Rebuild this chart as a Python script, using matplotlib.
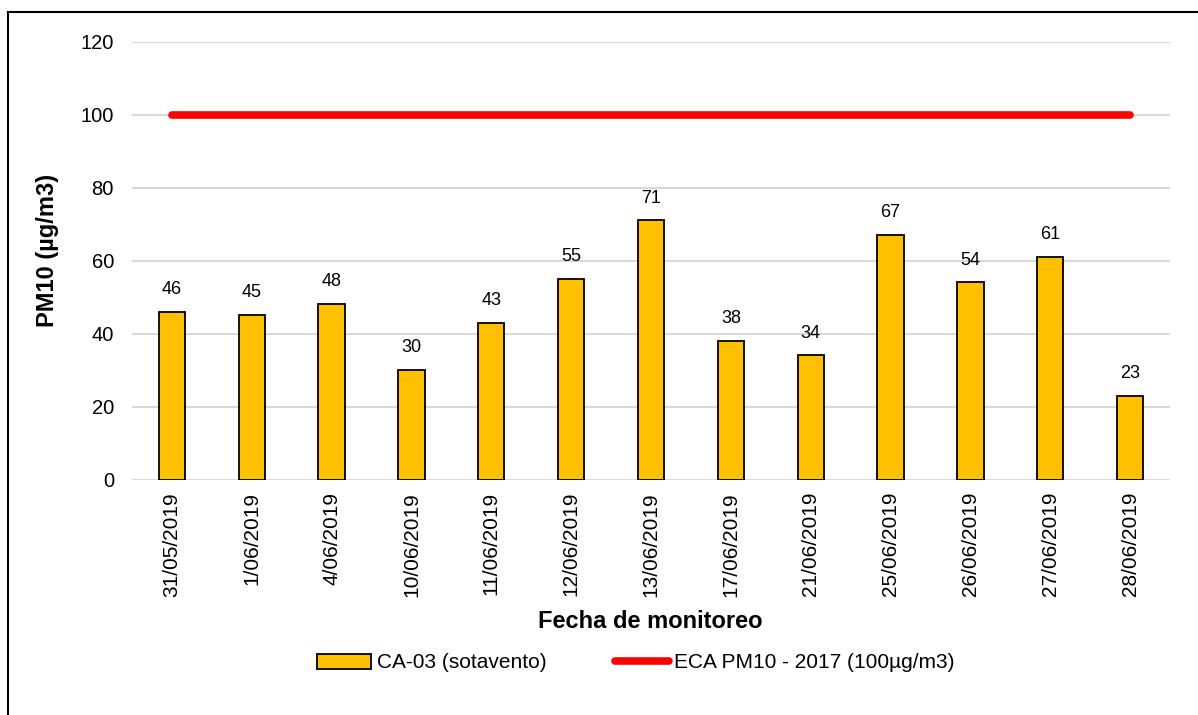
import matplotlib
matplotlib.use("Agg")
import matplotlib.pyplot as plt
from matplotlib.patches import Rectangle, Patch
from matplotlib.lines import Line2D
import numpy as np

plt.rcParams['font.family'] = ['Liberation Sans', 'DejaVu Sans']

dates = ["31/05/2019", "1/06/2019", "4/06/2019", "10/06/2019", "11/06/2019",
         "12/06/2019", "13/06/2019", "17/06/2019", "21/06/2019", "25/06/2019",
         "26/06/2019", "27/06/2019", "28/06/2019"]
pm10 = [46, 45, 48, 30, 43, 55, 71, 38, 34, 67, 54, 61, 23]
eca_limit = [100] * len(dates)
yticks = [0, 20, 40, 60, 80, 100, 120]

W, H = 1198, 715
fig = plt.figure(figsize=(W / 100, H / 100), dpi=100)
ax = fig.add_axes([132 / W, 1 - 479.5 / H, (1170 - 132) / W, (479.5 - 41.7) / H])

x = np.arange(len(dates))
ax.bar(x, pm10, width=0.33, color='#FFC000', edgecolor='black', linewidth=1.3, zorder=3)
for xi, v in zip(x, pm10):
    ax.annotate(str(v), (xi, v), xytext=(0, 10), textcoords='offset points',
                ha='center', va='bottom', fontsize=13)

ax.plot(x, eca_limit, color='#FF0000', linewidth=5.5, solid_capstyle='round', zorder=4)

ax.set_xlim(-0.5, len(dates) - 0.5)
ax.set_ylim(0, 120)
ax.set_yticks(yticks)
ax.set_yticklabels([str(t) for t in yticks], fontsize=14.5)
ax.set_xticks(x)
ax.set_xticklabels(dates, rotation=90, fontsize=15)
ax.tick_params(length=0)
ax.tick_params(axis='y', pad=13)
ax.tick_params(axis='x', pad=9)
ax.grid(axis='y', color='#D9D9D9', linewidth=1.5, zorder=0)
for s in ax.spines.values():
    s.set_visible(False)

fig.text(650 / W, 1 - 622 / H, "Fecha de monitoreo", fontsize=17, fontweight='bold',
         ha='center', va='center')
fig.text(48 / W, 1 - 250 / H, "PM10 (µg/m3)", fontsize=17, fontweight='bold',
         ha='center', va='center', rotation=90)

handles = [Patch(facecolor='#FFC000', edgecolor='black', linewidth=1.3),
           Line2D([0], [0], color='#FF0000', linewidth=5.5, solid_capstyle='round')]
fig.legend(handles, ["CA-03 (sotavento)", "ECA PM10 - 2017 (100µg/m3)"],
           loc='center', bbox_to_anchor=(636 / W, 1 - 663 / H), ncol=2, frameon=False,
           fontsize=15, handlelength=2.6, handletextpad=0.25, columnspacing=3.3,
           borderpad=0, borderaxespad=0)

fig.patches.append(Rectangle((8 / W, -0.1), 1.2, 1.1 - 12 / H, transform=fig.transFigure,
                             fill=False, edgecolor='black', linewidth=1.5))

fig.savefig("out.png", dpi=100)
